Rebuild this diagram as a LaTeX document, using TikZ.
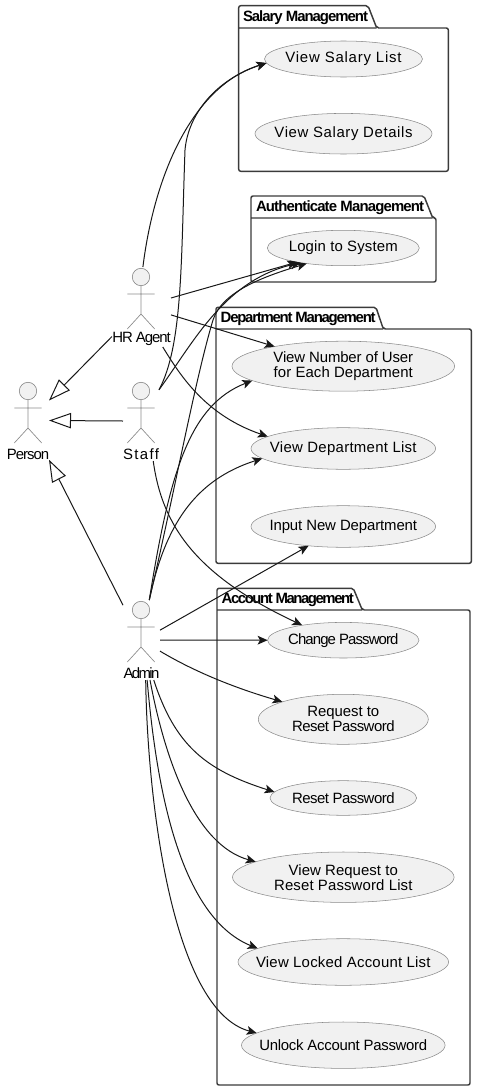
\documentclass[tikz,border=0pt]{standalone}
\usepackage{fontspec}
\usetikzlibrary{arrows.meta,shapes.geometric}
\setmainfont{Liberation Sans}
\ExplSyntaxOn
\cs_new:Npn \charcount #1 { \str_count:n {#1} }
\ExplSyntaxOff
% set a line to a target width (in reference pixels) by tracking
\newcommand\fitline[2]{\begingroup\setbox0\hbox{#2}%
  \pgfmathsetmacro\lsval{(#1*0.75-\the\wd0)/(\charcount{#2}-1)/11.2*100}%
  \addfontfeature{LetterSpace=\lsval}#2\endgroup}
% same, without widening the ellipse that holds it
\newcommand\ucline[2]{\makebox[0pt]{\fitline{#1}{#2}}}
\definecolor{ink}{HTML}{181818}
\definecolor{usefill}{HTML}{F1F1F1}
\definecolor{stickgray}{HTML}{8A8A8A}
\tikzset{
  x=0.75pt,y=-0.75pt,
  txt/.style={font=\fontsize{11.2}{11.25}\selectfont,text=black,align=center,inner sep=0pt,outer sep=0pt},
  uc/.style 2 args={shape=ellipse,draw=stickgray,line width=0.4pt,fill=usefill,inner sep=0pt,outer sep=0pt,
    minimum width=#1*1.5pt,minimum height=#2*1.5pt,txt},
  hit/.style 2 args={shape=rectangle,inner sep=0pt,outer sep=0pt,minimum width=#1*1.5pt,minimum height=#2*1.5pt},
  pkg/.style={draw=ink!85,line width=1.1pt,rounded corners=1.5pt,line join=round},
  pkgtitle/.style={font=\fontsize{11.2}{11.25}\selectfont\bfseries,text=black,inner sep=0pt,outer sep=0pt,anchor=west},
  link/.style={draw=ink,line width=0.75pt,-{Stealth[length=7.5pt,width=6.6pt,inset=1.8pt]}},
  gen/.style={draw=ink,line width=0.75pt,-{Triangle[open,length=16.5pt,width=11.5pt,fill=white]}},
  stickman/.pic={
    \draw[stickgray,line width=0.5pt,fill=usefill] (0,0) circle[radius=8.7];
    \draw[stickgray,line width=0.5pt] (0,8.7) -- (0,37) (-13.7,17) -- (13.7,17) (-13.7,52) -- (0,37) -- (13.7,52);
  }
}
\begin{document}
\begin{tikzpicture}
\useasboundingbox (0,0) rectangle (479,1092);
% packages
\draw[pkg] (238.7,28) -- (238.7,5.7) -- (368,5.7) -- (376.7,28) -- (448.3,28) -- (448.3,171.3) -- (238.7,171.3) -- cycle (238.7,28) -- (376.7,28);
\draw[pkg] (251,218) -- (251,196) -- (424,196) -- (432.7,218) -- (436,218) -- (436,282) -- (251,282) -- cycle (251,218) -- (432.7,218);
\draw[pkg] (216,329) -- (216,307.3) -- (376,307.3) -- (383.3,329) -- (471.3,329) -- (471.3,563.3) -- (216,563.3) -- cycle (216,329) -- (383.3,329);
\draw[pkg] (217,610) -- (217,588.3) -- (353.3,588.3) -- (362.3,610) -- (470,610) -- (470,1085) -- (217,1085) -- cycle (217,610) -- (362.3,610);
\node[pkgtitle] (tsal) at (243,18) {\fitline{124}{Salary Management}};
\node[pkgtitle] (taut) at (256,208) {\fitline{167.3}{Authenticate Management}};
\node[pkgtitle] (tdep) at (220.7,319) {\fitline{153.7}{Department Management}};
\node[pkgtitle] (tacc) at (221.7,600) {\fitline{130.7}{Account Management}};
% use cases
\node[uc={79}{18}] (salary) at (343.5,59) {\ucline{117.7}{View Salary List}};
\node[uc={88.5}{20.3}] (details) at (343.5,133.7) {\ucline{139.3}{View Salary Details}};
\node[uc={76}{17.7}] (login) at (343.3,248) {\ucline{109.3}{Login to System}};
\node[uc={111.3}{25}] (number) at (343.3,366.2) {\ucline{139.3}{View Number of User}\\\ucline{139.3}{for Each Department}};
\node[uc={92.3}{20.8}] (deplist) at (343.3,448.5) {\ucline{147.3}{View Department List}};
\node[uc={92.3}{20.8}] (input) at (343.3,526.5) {\ucline{147.3}{Input New Department}};
\node[uc={75.7}{17.8}] (change) at (343.3,640.2) {\ucline{109.3}{Change Password}};
\node[uc={85}{25}] (request) at (343.3,719.3) {\ucline{71.7}{Request to}\\\ucline{102}{Reset Password}};
\node[uc={73.3}{17.3}] (reset) at (343.3,798) {\ucline{102}{Reset Password}};
\node[uc={110.8}{25.2}] (viewreq) at (343.3,877.2) {\ucline{109.3}{View Request to}\\\ucline{138.7}{Reset Password List}};
\node[uc={105.3}{23.3}] (locked) at (343.3,962) {\ucline{175.3}{View Locked Account List}};
\node[uc={101.8}{23.2}] (unlock) at (343.3,1045.2) {\ucline{167.3}{Unlock Account Password}};
% actors
\pic at (28,391) {stickman};
\pic at (141,391) {stickman};
\pic at (141,277) {stickman};
\pic at (141,610) {stickman};
\node[txt] (lperson) at (28,454) {\fitline{42.3}{Person}};
\node[txt] (lstaff) at (141,454) {\fitline{36}{Staff}};
\node[txt] (lhr) at (141.5,339) {\fitline{57.3}{HR Agent}};
\node[txt] (ladmin) at (141.5,673) {\fitline{36}{Admin}};
\node[hit={20}{40}] (person) at (29,420.5) {};
\node[hit={18}{40}] (staff) at (141,421) {};
\node[hit={29.5}{40}] (hr) at (141.5,307) {};
\node[hit={18.5}{40}] (admin) at (141.5,640) {};
% generalisation
\draw[gen] (hr.225.5) -- (person.45);
\draw[gen] (staff.west) -- (person.east);
\draw[gen] (admin.118) -- (person.-63);
% associations
\draw[link] (hr.88) .. controls (155,170) and (195,85) .. (salary.183);
\draw[link] (hr.17) -- (login.197);
\draw[link] (hr.-15) -- (number.164);
\draw[link] (hr.-62) .. controls (180,375) and (205,415) .. (deplist.171);
\draw[link] (staff.60) .. controls (183,345) and (181,260) .. (185,150) .. controls (188,115) and (215,80) .. (salary.183);
\draw[link] (staff.60) .. controls (195,340) and (225,280) .. (login.199);
\draw[link] (staff.-73) .. controls (162,525) and (195,575) .. (change.160);
\draw[link] (admin.79) .. controls (175,490) and (195,380) .. (213,320) .. controls (222,292) and (262,277) .. (login.203);
\draw[link] (admin.79) .. controls (170,470) and (190,405) .. (number.189);
\draw[link] (admin.79) .. controls (165,525) and (195,480) .. (deplist.187);
\draw[link] (admin.28) -- (input.209);
\draw[link] (admin.east) -- (change.west);
\draw[link] (admin.-31) .. controls (195,672) and (235,688) .. (request.164);
\draw[link] (admin.-73) .. controls (175,745) and (205,770) .. (reset.175);
\draw[link] (admin.-78) .. controls (165,760) and (195,845) .. (viewreq.170);
\draw[link] (admin.-82) .. controls (155,770) and (175,915) .. (locked.171);
\draw[link] (admin.-84) .. controls (147,790) and (170,1010) .. (unlock.172);
\end{tikzpicture}
\end{document}
